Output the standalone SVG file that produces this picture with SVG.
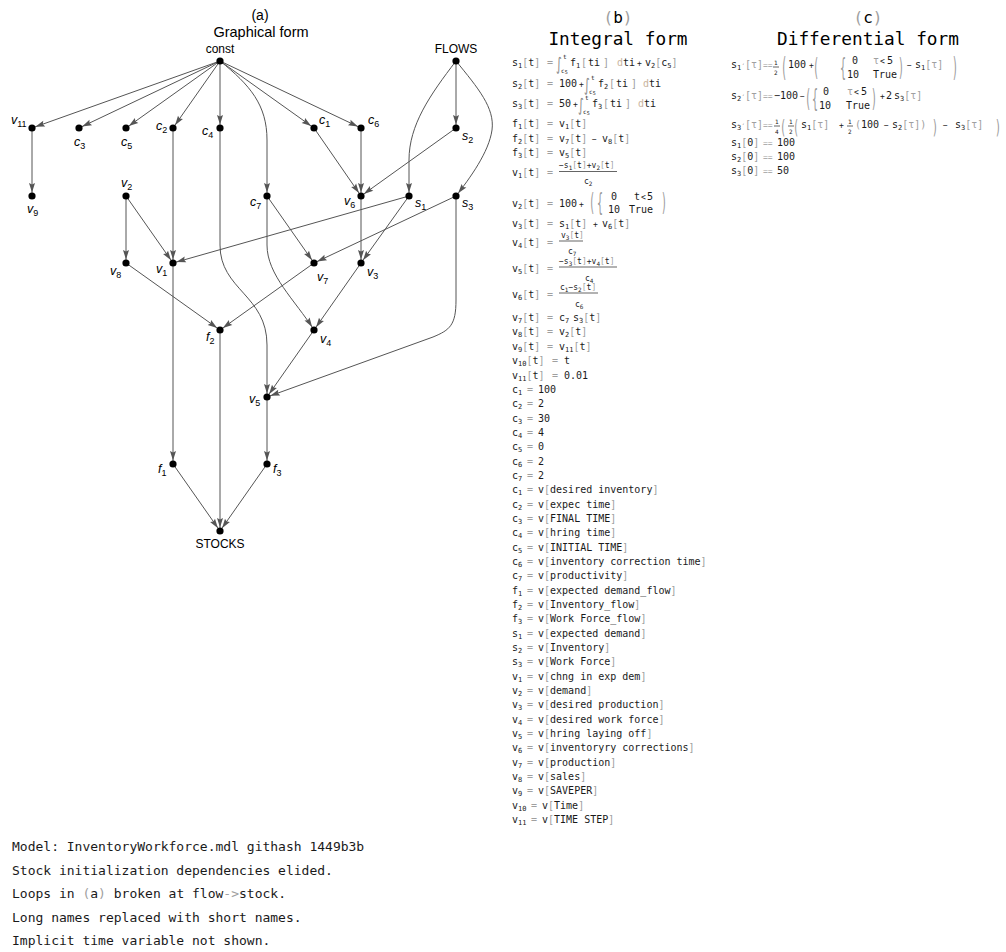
<svg xmlns="http://www.w3.org/2000/svg" width="1006" height="952" viewBox="0 0 1006 952">
<style>
.e{font-family:"DejaVu Sans Mono","Liberation Mono",monospace;font-size:10px;fill:#1a1a1a}
.sb{font-size:7px}
.f8{font-size:8px}
.f6{font-size:6px}
.f5{font-size:5px}
.g{fill:#a0a0a0}
.d{fill:#c8b49e}
.bp{font-family:"DejaVu Sans Mono","Liberation Mono",monospace;font-size:10px;fill:#9a9a9a}
.int{font-family:"DejaVu Sans",sans-serif;font-size:11px;fill:#8a8a8a}
.lbl{font-family:"Liberation Sans",Arial,sans-serif;font-style:italic;font-size:12.5px;fill:#000}
.n{font-style:normal;font-size:9px}
.nm{font-family:"Liberation Sans",Arial,sans-serif;font-size:12px;fill:#000}
.ttl{font-family:"Liberation Sans",Arial,sans-serif;font-size:14.5px;fill:#000}
.h1{font-family:"DejaVu Sans Mono","Liberation Mono",monospace;font-size:16px;fill:#000}
.h2{font-family:"DejaVu Sans Mono","Liberation Mono",monospace;font-size:17.8px;fill:#000}
.ft{font-family:"DejaVu Sans Mono","Liberation Mono",monospace;font-size:13px;fill:#1a1a1a}
.edges line,.edges path{stroke:#555;stroke-width:1;fill:none;marker-end:url(#ah)}
.fl{stroke:#222;stroke-width:0.7}
</style>
<defs>
<marker id="ah" markerWidth="16" markerHeight="8" refX="13" refY="3" orient="auto" markerUnits="userSpaceOnUse" overflow="visible">
<path d="M0,0 L9.5,3 L0,6 L1.5,3 z" fill="#555"/>
</marker>
</defs>
<rect width="1006" height="952" fill="#fff"/>

<text class="ttl" x="260" y="20" text-anchor="middle" style="font-size:14px">(a)</text>
<text class="ttl" x="261" y="37" text-anchor="middle">Graphical form</text>

<g id="edges" class="edges">
<line x1="220" y1="61" x2="32" y2="128"/>
<line x1="220" y1="61" x2="79" y2="128"/>
<line x1="220" y1="61" x2="126" y2="128"/>
<line x1="220" y1="61" x2="173" y2="128"/>
<line x1="220" y1="61" x2="220" y2="128"/>
<line x1="220" y1="61" x2="314" y2="128"/>
<line x1="220" y1="61" x2="361" y2="128"/>
<path d="M220,61 C250,85 267,105 267,140 V196"/>
<line x1="32" y1="128" x2="32" y2="196"/>
<line x1="173" y1="128" x2="173" y2="263"/>
<path d="M220,128 V245 C220,290 267,295 267,345 V397"/>
<line x1="314" y1="128" x2="361" y2="196"/>
<line x1="361" y1="128" x2="361" y2="196"/>
<line x1="456" y1="128" x2="361" y2="196"/>
<line x1="456" y1="61" x2="456" y2="128"/>
<path d="M456,61 C430,95 409,125 409,160 V196"/>
<path d="M456,61 C478,88 495,108 492,130 C489,152 470,178 456,196"/>
<line x1="126" y1="196" x2="126" y2="263"/>
<line x1="126" y1="196" x2="173" y2="263"/>
<line x1="409" y1="196" x2="173" y2="263"/>
<line x1="409" y1="196" x2="361" y2="263"/>
<line x1="456" y1="196" x2="314" y2="263"/>
<path d="M456,196 V300 C456,325 450,330 433,337 L267,397"/>
<line x1="361" y1="196" x2="361" y2="263"/>
<line x1="267" y1="196" x2="314" y2="263"/>
<path d="M267,196 V245 C267,275 295,300 314,330"/>
<line x1="126" y1="263" x2="220" y2="330"/>
<line x1="314" y1="263" x2="220" y2="330"/>
<line x1="361" y1="263" x2="314" y2="330"/>
<line x1="173" y1="263" x2="173" y2="464"/>
<line x1="314" y1="330" x2="267" y2="397"/>
<line x1="267" y1="397" x2="267" y2="464"/>
<line x1="173" y1="464" x2="220" y2="531"/>
<line x1="220" y1="330" x2="220" y2="531"/>
<line x1="267" y1="464" x2="220" y2="531"/>
</g>

<g id="node-const"><circle cx="220" cy="61" r="3.6"/><text class="nm" x="220" y="53" text-anchor="middle">const</text></g>
<g id="node-FLOWS"><circle cx="456" cy="61" r="3.6"/><text class="nm" x="456" y="53" text-anchor="middle">FLOWS</text></g>
<g id="node-STOCKS"><circle cx="220" cy="531" r="3.6"/><text class="nm" x="220" y="548" text-anchor="middle">STOCKS</text></g>
<g id="node-v11"><circle cx="32" cy="128" r="3.6"/><text class="lbl" x="11" y="124">v<tspan class="n" dy="3">11</tspan></text></g>
<g id="node-c3"><circle cx="79" cy="128" r="3.6"/><text class="lbl" x="74" y="146">c<tspan class="n" dy="3">3</tspan></text></g>
<g id="node-c5"><circle cx="126" cy="128" r="3.6"/><text class="lbl" x="121" y="146">c<tspan class="n" dy="3">5</tspan></text></g>
<g id="node-c2"><circle cx="173" cy="128" r="3.6"/><text class="lbl" x="156" y="130">c<tspan class="n" dy="3">2</tspan></text></g>
<g id="node-c4"><circle cx="220" cy="128" r="3.6"/><text class="lbl" x="202" y="135">c<tspan class="n" dy="3">4</tspan></text></g>
<g id="node-c1"><circle cx="314" cy="128" r="3.6"/><text class="lbl" x="319" y="124">c<tspan class="n" dy="3">1</tspan></text></g>
<g id="node-c6"><circle cx="361" cy="128" r="3.6"/><text class="lbl" x="368" y="124">c<tspan class="n" dy="3">6</tspan></text></g>
<g id="node-s2"><circle cx="456" cy="128" r="3.6"/><text class="lbl" x="462" y="140">s<tspan class="n" dy="3">2</tspan></text></g>
<g id="node-v9"><circle cx="32" cy="196" r="3.6"/><text class="lbl" x="27" y="213">v<tspan class="n" dy="3">9</tspan></text></g>
<g id="node-v2"><circle cx="126" cy="196" r="3.6"/><text class="lbl" x="121" y="187">v<tspan class="n" dy="3">2</tspan></text></g>
<g id="node-c7"><circle cx="267" cy="196" r="3.6"/><text class="lbl" x="250" y="206">c<tspan class="n" dy="3">7</tspan></text></g>
<g id="node-v6"><circle cx="361" cy="196" r="3.6"/><text class="lbl" x="344" y="205">v<tspan class="n" dy="3">6</tspan></text></g>
<g id="node-s1"><circle cx="409" cy="196" r="3.6"/><text class="lbl" x="415" y="207">s<tspan class="n" dy="3">1</tspan></text></g>
<g id="node-s3"><circle cx="456" cy="196" r="3.6"/><text class="lbl" x="462" y="207">s<tspan class="n" dy="3">3</tspan></text></g>
<g id="node-v8"><circle cx="126" cy="263" r="3.6"/><text class="lbl" x="110" y="275">v<tspan class="n" dy="3">8</tspan></text></g>
<g id="node-v1"><circle cx="173" cy="263" r="3.6"/><text class="lbl" x="156" y="273">v<tspan class="n" dy="3">1</tspan></text></g>
<g id="node-v7"><circle cx="314" cy="263" r="3.6"/><text class="lbl" x="317" y="281">v<tspan class="n" dy="3">7</tspan></text></g>
<g id="node-v3"><circle cx="361" cy="263" r="3.6"/><text class="lbl" x="367" y="276">v<tspan class="n" dy="3">3</tspan></text></g>
<g id="node-f2"><circle cx="220" cy="330" r="3.6"/><text class="lbl" x="206" y="341">f<tspan class="n" dy="3">2</tspan></text></g>
<g id="node-v4"><circle cx="314" cy="330" r="3.6"/><text class="lbl" x="320" y="343">v<tspan class="n" dy="3">4</tspan></text></g>
<g id="node-v5"><circle cx="267" cy="397" r="3.6"/><text class="lbl" x="249" y="403">v<tspan class="n" dy="3">5</tspan></text></g>
<g id="node-f1"><circle cx="173" cy="464" r="3.6"/><text class="lbl" x="158" y="473">f<tspan class="n" dy="3">1</tspan></text></g>
<g id="node-f3"><circle cx="267" cy="464" r="3.6"/><text class="lbl" x="273" y="473">f<tspan class="n" dy="3">3</tspan></text></g>

<g id="integral-form">
<text class="h1" x="618" y="23" text-anchor="middle"><tspan class="g">(</tspan>b<tspan class="g">)</tspan></text>
<text class="h2" x="618" y="45" text-anchor="middle">Integral form</text>

<text class="e" x="512" y="66">s<tspan class="sb" dy="2">1</tspan><tspan class="g" dy="-2">[</tspan>t<tspan class="g">]</tspan><tspan class="g" x="547">=</tspan></text>
<text class="int" transform="translate(556,70) scale(1,1.6)">∫</text>
<text class="e f6" x="563" y="59">t</text>
<text class="e f6" x="561" y="73">c<tspan class="f5" dy="1">5</tspan></text>
<text class="e" x="570" y="66">f<tspan class="sb" dy="2">1</tspan><tspan class="g" dy="-2" x="581">[</tspan><tspan x="588">ti</tspan><tspan class="g" x="603">]</tspan><tspan class="d" x="617">d</tspan>ti<tspan class="f8" x="637">+</tspan><tspan x="645">v</tspan><tspan class="sb" dy="2">2</tspan><tspan class="g" dy="-2">[</tspan>c<tspan class="sb" dy="2">5</tspan><tspan class="g" dy="-2">]</tspan></text>

<text class="e" x="512" y="87">s<tspan class="sb" dy="2">2</tspan><tspan class="g" dy="-2">[</tspan>t<tspan class="g">]</tspan><tspan class="g" x="547">=</tspan><tspan x="559">100</tspan><tspan class="f8" x="579">+</tspan></text>
<text class="int" transform="translate(584,91) scale(1,1.6)">∫</text>
<text class="e f6" x="591" y="80">t</text>
<text class="e f6" x="589" y="94">c<tspan class="f5" dy="1">5</tspan></text>
<text class="e" x="598" y="87">f<tspan class="sb" dy="2">2</tspan><tspan class="g" dy="-2" x="609">[</tspan><tspan x="616">ti</tspan><tspan class="g" x="631">]</tspan><tspan class="d" x="643">d</tspan>ti</text>

<text class="e" x="512" y="107">s<tspan class="sb" dy="2">3</tspan><tspan class="g" dy="-2">[</tspan>t<tspan class="g">]</tspan><tspan class="g" x="547">=</tspan><tspan x="559">50</tspan><tspan class="f8" x="573">+</tspan></text>
<text class="int" transform="translate(578,111) scale(1,1.6)">∫</text>
<text class="e f6" x="585" y="100">t</text>
<text class="e f6" x="583" y="114">c<tspan class="f5" dy="1">5</tspan></text>
<text class="e" x="592" y="107">f<tspan class="sb" dy="2">3</tspan><tspan class="g" dy="-2" x="603">[</tspan><tspan x="610">ti</tspan><tspan class="g" x="625">]</tspan><tspan class="d" x="638">d</tspan>ti</text>

<text class="e" x="512" y="127">f<tspan class="sb" dy="2">1</tspan><tspan class="g" dy="-2">[</tspan>t<tspan class="g">]</tspan><tspan class="g" x="547">=</tspan><tspan x="559">v</tspan><tspan class="sb" dy="2">1</tspan><tspan class="g" dy="-2">[</tspan>t<tspan class="g">]</tspan></text>
<text class="e" x="512" y="142">f<tspan class="sb" dy="2">2</tspan><tspan class="g" dy="-2">[</tspan>t<tspan class="g">]</tspan><tspan class="g" x="547">=</tspan><tspan x="559">v</tspan><tspan class="sb" dy="2">7</tspan><tspan class="g" dy="-2">[</tspan>t<tspan class="g">]</tspan><tspan class="f8" x="592">−</tspan><tspan x="602">v</tspan><tspan class="sb" dy="2">8</tspan><tspan class="g" dy="-2">[</tspan>t<tspan class="g">]</tspan></text>
<text class="e" x="512" y="156">f<tspan class="sb" dy="2">3</tspan><tspan class="g" dy="-2">[</tspan>t<tspan class="g">]</tspan><tspan class="g" x="547">=</tspan><tspan x="559">v</tspan><tspan class="sb" dy="2">5</tspan><tspan class="g" dy="-2">[</tspan>t<tspan class="g">]</tspan></text>

<text class="e" x="512" y="176">v<tspan class="sb" dy="2">1</tspan><tspan class="g" dy="-2">[</tspan>t<tspan class="g">]</tspan><tspan class="g" x="547">=</tspan></text>
<text class="e f8" x="559" y="168">−s<tspan class="f6" dy="1.5">1</tspan><tspan class="g" dy="-1.5">[</tspan>t<tspan class="g">]</tspan>+v<tspan class="f6" dy="1.5">2</tspan><tspan class="g" dy="-1.5">[</tspan>t<tspan class="g">]</tspan></text>
<line class="fl" x1="559" y1="171.5" x2="617" y2="171.5"/>
<text class="e f8" x="584" y="184">c<tspan class="f6" dy="1.5">2</tspan></text>

<text class="e" x="512" y="207">v<tspan class="sb" dy="2">2</tspan><tspan class="g" dy="-2">[</tspan>t<tspan class="g">]</tspan><tspan class="g" x="547">=</tspan><tspan x="559">100</tspan><tspan class="f8" x="579">+</tspan></text>
<text class="bp" transform="translate(589,211) scale(1,2.5)">(</text>
<text class="bp" transform="translate(597,211) scale(1,2.4)">{</text>
<text class="e" x="611" y="200">0<tspan x="634">t</tspan><tspan class="f8" x="641">&lt;</tspan><tspan x="647">5</tspan></text>
<text class="e" x="608" y="213">10<tspan x="629">True</tspan></text>
<text class="bp" transform="translate(661,211) scale(1,2.5)">)</text>

<text class="e" x="512" y="227">v<tspan class="sb" dy="2">3</tspan><tspan class="g" dy="-2">[</tspan>t<tspan class="g">]</tspan><tspan class="g" x="547">=</tspan><tspan x="559">s</tspan><tspan class="sb" dy="2">1</tspan><tspan class="g" dy="-2">[</tspan>t<tspan class="g">]</tspan><tspan class="f8" x="593">+</tspan><tspan x="602">v</tspan><tspan class="sb" dy="2">6</tspan><tspan class="g" dy="-2">[</tspan>t<tspan class="g">]</tspan></text>

<text class="e" x="512" y="246">v<tspan class="sb" dy="2">4</tspan><tspan class="g" dy="-2">[</tspan>t<tspan class="g">]</tspan><tspan class="g" x="547">=</tspan></text>
<text class="e f8" x="561" y="238">v<tspan class="f6" dy="1.5">3</tspan><tspan class="g" dy="-1.5">[</tspan>t<tspan class="g">]</tspan></text>
<line class="fl" x1="559" y1="241" x2="583" y2="241"/>
<text class="e f8" x="568" y="254">c<tspan class="f6" dy="1.5">7</tspan></text>

<text class="e" x="512" y="272">v<tspan class="sb" dy="2">5</tspan><tspan class="g" dy="-2">[</tspan>t<tspan class="g">]</tspan><tspan class="g" x="547">=</tspan></text>
<text class="e f8" x="559" y="264">−s<tspan class="f6" dy="1.5">3</tspan><tspan class="g" dy="-1.5">[</tspan>t<tspan class="g">]</tspan>+v<tspan class="f6" dy="1.5">4</tspan><tspan class="g" dy="-1.5">[</tspan>t<tspan class="g">]</tspan></text>
<line class="fl" x1="559" y1="267" x2="617" y2="267"/>
<text class="e f8" x="585" y="281">c<tspan class="f6" dy="1.5">4</tspan></text>

<text class="e" x="512" y="298">v<tspan class="sb" dy="2">6</tspan><tspan class="g" dy="-2">[</tspan>t<tspan class="g">]</tspan><tspan class="g" x="547">=</tspan></text>
<text class="e f8" x="560" y="290">c<tspan class="f6" dy="1.5">1</tspan><tspan dy="-1.5">−s</tspan><tspan class="f6" dy="1.5">2</tspan><tspan class="g" dy="-1.5">[</tspan>t<tspan class="g">]</tspan></text>
<line class="fl" x1="559" y1="293" x2="598" y2="293"/>
<text class="e f8" x="575" y="307">c<tspan class="f6" dy="1.5">6</tspan></text>

<text class="e" x="512" y="321">v<tspan class="sb" dy="2">7</tspan><tspan class="g" dy="-2">[</tspan>t<tspan class="g">]</tspan><tspan class="g" x="547">=</tspan><tspan x="559">c</tspan><tspan class="sb" dy="2">7</tspan><tspan x="573" dy="-2">s</tspan><tspan class="sb" dy="2">3</tspan><tspan class="g" dy="-2">[</tspan>t<tspan class="g">]</tspan></text>
<text class="e" x="512" y="335">v<tspan class="sb" dy="2">8</tspan><tspan class="g" dy="-2">[</tspan>t<tspan class="g">]</tspan><tspan class="g" x="547">=</tspan><tspan x="559">v</tspan><tspan class="sb" dy="2">2</tspan><tspan class="g" dy="-2">[</tspan>t<tspan class="g">]</tspan></text>
<text class="e" x="512" y="350">v<tspan class="sb" dy="2">9</tspan><tspan class="g" dy="-2">[</tspan>t<tspan class="g">]</tspan><tspan class="g" x="547">=</tspan><tspan x="559">v</tspan><tspan class="sb" dy="2">11</tspan><tspan class="g" dy="-2">[</tspan>t<tspan class="g">]</tspan></text>
<text class="e" x="512" y="364">v<tspan class="sb" dy="2">10</tspan><tspan class="g" dy="-2">[</tspan>t<tspan class="g">]</tspan><tspan class="g" x="552">=</tspan><tspan x="564">t</tspan></text>
<text class="e" x="512" y="379">v<tspan class="sb" dy="2">11</tspan><tspan class="g" dy="-2">[</tspan>t<tspan class="g">]</tspan><tspan class="g" x="552">=</tspan><tspan x="564">0.01</tspan></text>

<text class="e" x="512" y="393">c<tspan class="sb" dy="2">1</tspan><tspan class="g" x="527" dy="-2">=</tspan><tspan x="538">100</tspan></text>
<text class="e" x="512" y="407.3">c<tspan class="sb" dy="2">2</tspan><tspan class="g" x="527" dy="-2">=</tspan><tspan x="538">2</tspan></text>
<text class="e" x="512" y="421.7">c<tspan class="sb" dy="2">3</tspan><tspan class="g" x="527" dy="-2">=</tspan><tspan x="538">30</tspan></text>
<text class="e" x="512" y="436">c<tspan class="sb" dy="2">4</tspan><tspan class="g" x="527" dy="-2">=</tspan><tspan x="538">4</tspan></text>
<text class="e" x="512" y="450.3">c<tspan class="sb" dy="2">5</tspan><tspan class="g" x="527" dy="-2">=</tspan><tspan x="538">0</tspan></text>
<text class="e" x="512" y="464.7">c<tspan class="sb" dy="2">6</tspan><tspan class="g" x="527" dy="-2">=</tspan><tspan x="538">2</tspan></text>
<text class="e" x="512" y="479">c<tspan class="sb" dy="2">7</tspan><tspan class="g" x="527" dy="-2">=</tspan><tspan x="538">2</tspan></text>
<text class="e" x="512" y="493.3">c<tspan class="sb" dy="2">1</tspan><tspan class="g" x="527" dy="-2">=</tspan><tspan x="538">v</tspan><tspan class="g">[</tspan>desired inventory<tspan class="g">]</tspan></text>
<text class="e" x="512" y="507.6">c<tspan class="sb" dy="2">2</tspan><tspan class="g" x="527" dy="-2">=</tspan><tspan x="538">v</tspan><tspan class="g">[</tspan>expec time<tspan class="g">]</tspan></text>
<text class="e" x="512" y="522">c<tspan class="sb" dy="2">3</tspan><tspan class="g" x="527" dy="-2">=</tspan><tspan x="538">v</tspan><tspan class="g">[</tspan>FINAL TIME<tspan class="g">]</tspan></text>
<text class="e" x="512" y="536.3">c<tspan class="sb" dy="2">4</tspan><tspan class="g" x="527" dy="-2">=</tspan><tspan x="538">v</tspan><tspan class="g">[</tspan>hring time<tspan class="g">]</tspan></text>
<text class="e" x="512" y="550.6">c<tspan class="sb" dy="2">5</tspan><tspan class="g" x="527" dy="-2">=</tspan><tspan x="538">v</tspan><tspan class="g">[</tspan>INITIAL TIME<tspan class="g">]</tspan></text>
<text class="e" x="512" y="565">c<tspan class="sb" dy="2">6</tspan><tspan class="g" x="527" dy="-2">=</tspan><tspan x="538">v</tspan><tspan class="g">[</tspan>inventory correction time<tspan class="g">]</tspan></text>
<text class="e" x="512" y="579.3">c<tspan class="sb" dy="2">7</tspan><tspan class="g" x="527" dy="-2">=</tspan><tspan x="538">v</tspan><tspan class="g">[</tspan>productivity<tspan class="g">]</tspan></text>
<text class="e" x="512" y="593.6">f<tspan class="sb" dy="2">1</tspan><tspan class="g" x="527" dy="-2">=</tspan><tspan x="538">v</tspan><tspan class="g">[</tspan>expected demand_flow<tspan class="g">]</tspan></text>
<text class="e" x="512" y="608">f<tspan class="sb" dy="2">2</tspan><tspan class="g" x="527" dy="-2">=</tspan><tspan x="538">v</tspan><tspan class="g">[</tspan>Inventory_flow<tspan class="g">]</tspan></text>
<text class="e" x="512" y="622.3">f<tspan class="sb" dy="2">3</tspan><tspan class="g" x="527" dy="-2">=</tspan><tspan x="538">v</tspan><tspan class="g">[</tspan>Work Force_flow<tspan class="g">]</tspan></text>
<text class="e" x="512" y="636.6">s<tspan class="sb" dy="2">1</tspan><tspan class="g" x="527" dy="-2">=</tspan><tspan x="538">v</tspan><tspan class="g">[</tspan>expected demand<tspan class="g">]</tspan></text>
<text class="e" x="512" y="651">s<tspan class="sb" dy="2">2</tspan><tspan class="g" x="527" dy="-2">=</tspan><tspan x="538">v</tspan><tspan class="g">[</tspan>Inventory<tspan class="g">]</tspan></text>
<text class="e" x="512" y="665.3">s<tspan class="sb" dy="2">3</tspan><tspan class="g" x="527" dy="-2">=</tspan><tspan x="538">v</tspan><tspan class="g">[</tspan>Work Force<tspan class="g">]</tspan></text>
<text class="e" x="512" y="679.6">v<tspan class="sb" dy="2">1</tspan><tspan class="g" x="527" dy="-2">=</tspan><tspan x="538">v</tspan><tspan class="g">[</tspan>chng in exp dem<tspan class="g">]</tspan></text>
<text class="e" x="512" y="694">v<tspan class="sb" dy="2">2</tspan><tspan class="g" x="527" dy="-2">=</tspan><tspan x="538">v</tspan><tspan class="g">[</tspan>demand<tspan class="g">]</tspan></text>
<text class="e" x="512" y="708.3">v<tspan class="sb" dy="2">3</tspan><tspan class="g" x="527" dy="-2">=</tspan><tspan x="538">v</tspan><tspan class="g">[</tspan>desired production<tspan class="g">]</tspan></text>
<text class="e" x="512" y="722.6">v<tspan class="sb" dy="2">4</tspan><tspan class="g" x="527" dy="-2">=</tspan><tspan x="538">v</tspan><tspan class="g">[</tspan>desired work force<tspan class="g">]</tspan></text>
<text class="e" x="512" y="737">v<tspan class="sb" dy="2">5</tspan><tspan class="g" x="527" dy="-2">=</tspan><tspan x="538">v</tspan><tspan class="g">[</tspan>hring laying off<tspan class="g">]</tspan></text>
<text class="e" x="512" y="751.3">v<tspan class="sb" dy="2">6</tspan><tspan class="g" x="527" dy="-2">=</tspan><tspan x="538">v</tspan><tspan class="g">[</tspan>inventoryry corrections<tspan class="g">]</tspan></text>
<text class="e" x="512" y="765.6">v<tspan class="sb" dy="2">7</tspan><tspan class="g" x="527" dy="-2">=</tspan><tspan x="538">v</tspan><tspan class="g">[</tspan>production<tspan class="g">]</tspan></text>
<text class="e" x="512" y="780">v<tspan class="sb" dy="2">8</tspan><tspan class="g" x="527" dy="-2">=</tspan><tspan x="538">v</tspan><tspan class="g">[</tspan>sales<tspan class="g">]</tspan></text>
<text class="e" x="512" y="794.3">v<tspan class="sb" dy="2">9</tspan><tspan class="g" x="527" dy="-2">=</tspan><tspan x="538">v</tspan><tspan class="g">[</tspan>SAVEPER<tspan class="g">]</tspan></text>
<text class="e" x="512" y="808.6">v<tspan class="sb" dy="2">10</tspan><tspan class="g" x="531" dy="-2">=</tspan><tspan x="542">v</tspan><tspan class="g">[</tspan>Time<tspan class="g">]</tspan></text>
<text class="e" x="512" y="823">v<tspan class="sb" dy="2">11</tspan><tspan class="g" x="531" dy="-2">=</tspan><tspan x="542">v</tspan><tspan class="g">[</tspan>TIME STEP<tspan class="g">]</tspan></text>
</g>

<g id="differential-form">
<text class="h1" x="868" y="23" text-anchor="middle"><tspan class="g">(</tspan>c<tspan class="g">)</tspan></text>
<text class="h2" x="868" y="45" text-anchor="middle">Differential form</text>

<text class="e" x="731" y="68">s<tspan class="sb" dy="2">1</tspan><tspan class="f6" dy="-2" x="741.5">′</tspan><tspan class="g" x="745">[τ]</tspan><tspan class="g f8" x="763">==</tspan></text>
<text class="e f6" x="774" y="65">1</text><line class="fl" x1="773" y1="67" x2="779" y2="67"/><text class="e f6" x="774" y="75">2</text>
<text class="bp" transform="translate(781,76) scale(1,2.7)">(</text>
<text class="e" x="788" y="68">100<tspan class="f8" x="809">+</tspan></text>
<text class="bp" transform="translate(813,76) scale(1,2.5)">(</text>
<text class="bp" transform="translate(840,76) scale(1,2.4)">{</text>
<text class="e" x="852" y="64">0<tspan class="g" x="873">τ</tspan><tspan class="f8" x="880">&lt;</tspan><tspan x="887">5</tspan></text>
<text class="e" x="847" y="78">10<tspan x="873">True</tspan></text>
<text class="bp" transform="translate(898,76) scale(1,2.5)">)</text>
<text class="e" x="907" y="68"><tspan class="f8">−</tspan><tspan x="915">s</tspan><tspan class="sb" dy="2">1</tspan><tspan class="g" dy="-2">[τ]</tspan></text>
<text class="bp" transform="translate(952,76) scale(1,2.7)">)</text>

<text class="e" x="731" y="99">s<tspan class="sb" dy="2">2</tspan><tspan class="f6" dy="-2" x="741.5">′</tspan><tspan class="g" x="745">[τ]</tspan><tspan class="g f8" x="763">==</tspan><tspan x="774">−100</tspan><tspan class="f8" x="800">−</tspan></text>
<text class="bp" transform="translate(805,107) scale(1,2.5)">(</text>
<text class="bp" transform="translate(812,107) scale(1,2.4)">{</text>
<text class="e" x="823" y="95">0<tspan class="g" x="847">τ</tspan><tspan class="f8" x="854">&lt;</tspan><tspan x="861">5</tspan></text>
<text class="e" x="819" y="109">10<tspan x="846">True</tspan></text>
<text class="bp" transform="translate(871,107) scale(1,2.5)">)</text>
<text class="e" x="880" y="99"><tspan class="f8">+</tspan><tspan x="886">2</tspan><tspan x="894">s</tspan><tspan class="sb" dy="2">3</tspan><tspan class="g" dy="-2">[τ]</tspan></text>

<text class="e" x="731" y="128">s<tspan class="sb" dy="2">3</tspan><tspan class="f6" dy="-2" x="741.5">′</tspan><tspan class="g" x="745">[τ]</tspan><tspan class="g f8" x="763">==</tspan></text>
<text class="e f6" x="775" y="124">1</text><line class="fl" x1="774" y1="126" x2="780" y2="126"/><text class="e f6" x="775" y="134">4</text>
<text class="bp" transform="translate(780,134) scale(1,2)">(</text>
<text class="e f6" x="789" y="124">1</text><line class="fl" x1="788" y1="126" x2="794" y2="126"/><text class="e f6" x="789" y="134">2</text>
<text class="bp" transform="translate(793,134) scale(1,2)">(</text>
<text class="e" x="801" y="128">s<tspan class="sb" dy="2">1</tspan><tspan class="g" dy="-2">[τ]</tspan><tspan class="f8" x="839">+</tspan></text>
<text class="e f6" x="848" y="124">1</text><line class="fl" x1="847" y1="126" x2="853" y2="126"/><text class="e f6" x="848" y="134">2</text>
<text class="e" x="855" y="128"><tspan class="g">(</tspan>100<tspan class="f8" x="884">−</tspan><tspan x="892">s</tspan><tspan class="sb" dy="2">2</tspan><tspan class="g" dy="-2">[τ])</tspan></text>
<text class="bp" transform="translate(932,134) scale(1,2)">)</text>
<text class="e" x="943" y="128"><tspan class="f8">−</tspan><tspan x="955">s</tspan><tspan class="sb" dy="2">3</tspan><tspan class="g" dy="-2">[τ]</tspan></text>
<text class="bp" transform="translate(995,134) scale(1,2)">)</text>

<text class="e" x="731" y="146">s<tspan class="sb" dy="2">1</tspan><tspan class="g" dy="-2">[</tspan>0<tspan class="g">]</tspan><tspan class="g f8" x="763">==</tspan><tspan x="777">100</tspan></text>
<text class="e" x="731" y="160">s<tspan class="sb" dy="2">2</tspan><tspan class="g" dy="-2">[</tspan>0<tspan class="g">]</tspan><tspan class="g f8" x="763">==</tspan><tspan x="777">100</tspan></text>
<text class="e" x="731" y="174">s<tspan class="sb" dy="2">3</tspan><tspan class="g" dy="-2">[</tspan>0<tspan class="g">]</tspan><tspan class="g f8" x="763">==</tspan><tspan x="777">50</tspan></text>
</g>

<g id="notes">
<text class="ft" x="12" y="851">Model: InventoryWorkforce.mdl githash 1449b3b</text>
<text class="ft" x="12" y="874.5">Stock initialization dependencies elided.</text>
<text class="ft" x="12" y="898">Loops in <tspan class="g">(</tspan>a<tspan class="g">)</tspan> broken at flow<tspan class="g">-&gt;</tspan>stock.</text>
<text class="ft" x="12" y="921.5">Long names replaced with short names.</text>
<text class="ft" x="12" y="945">Implicit time variable not shown.</text>
</g>
</svg>
